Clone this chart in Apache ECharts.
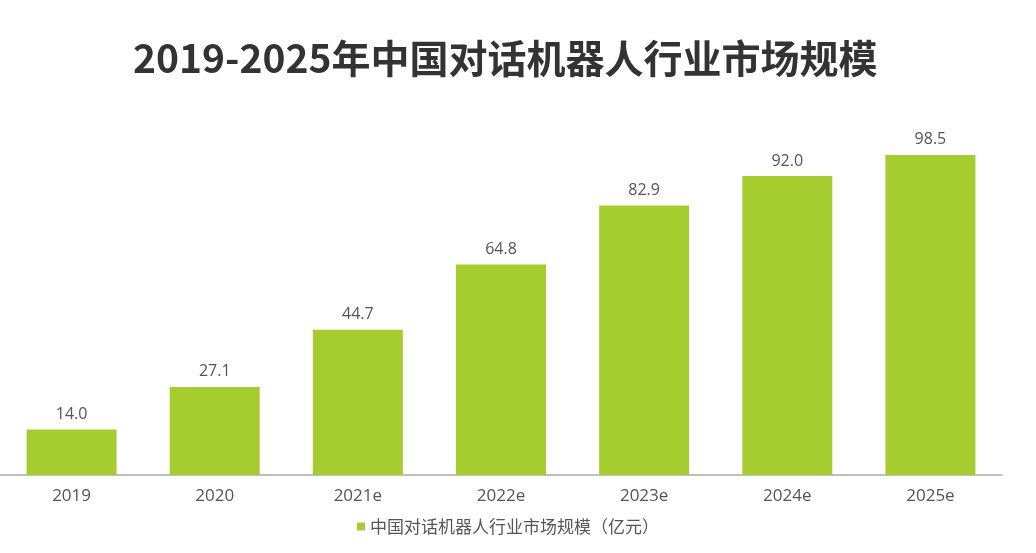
<!DOCTYPE html>
<html><head><meta charset="utf-8">
<script src="https://cdn.jsdelivr.net/npm/echarts@6/dist/echarts.min.js"></script>
<style>html,body{margin:0;padding:0;background:#fff}#c{width:1036px;height:553px}</style>
</head><body><div id="c"></div>
<script>
const categories = ['2019','2020','2021e','2022e','2023e','2024e','2025e'];
const marketSize = [14.0, 27.1, 44.7, 64.8, 82.9, 92.0, 98.5];
const seriesName = '中国对话机器人行业市场规模（亿元）';
const titleText = '2019-2025年中国对话机器人行业市场规模';
const chart = echarts.init(document.getElementById('c'));
chart.setOption({
  animation: false,
  backgroundColor: '#fff',
  title: {
    text: titleText, left: 128, top: 34,
    textStyle: {fontFamily: 'Noto Sans CJK SC', fontWeight: 'bold', fontSize: 39, color: '#333'}
  },
  legend: {
    bottom: 13, left: 352, itemWidth: 8, itemHeight: 8, itemGap: 4, icon: 'rect',
    textStyle: {fontFamily: 'Noto Sans CJK SC', fontSize: 17, color: '#555'},
    data: [seriesName]
  },
  grid: {left: -7, right: 34, top: 150, height: 325, containLabel: false},
  xAxis: {
    type: 'category', data: categories,
    axisLine: {lineStyle: {color: '#aaa', width: 1.5}},
    axisTick: {show: false},
    axisLabel: {fontFamily: 'Open Sans', fontSize: 17, color: '#555', margin: 13}
  },
  yAxis: {type: 'value', min: 0, max: 100, show: false, splitLine: {show: false}},
  series: [{
    name: seriesName, type: 'bar', data: marketSize, barWidth: 90,
    itemStyle: {color: '#a6cd30'},
    label: {show: true, position: 'top', distance: 7, formatter: p => p.value.toFixed(1),
      fontFamily: 'Open Sans', fontSize: 16, color: '#555'}
  }]
});
</script></body></html>
